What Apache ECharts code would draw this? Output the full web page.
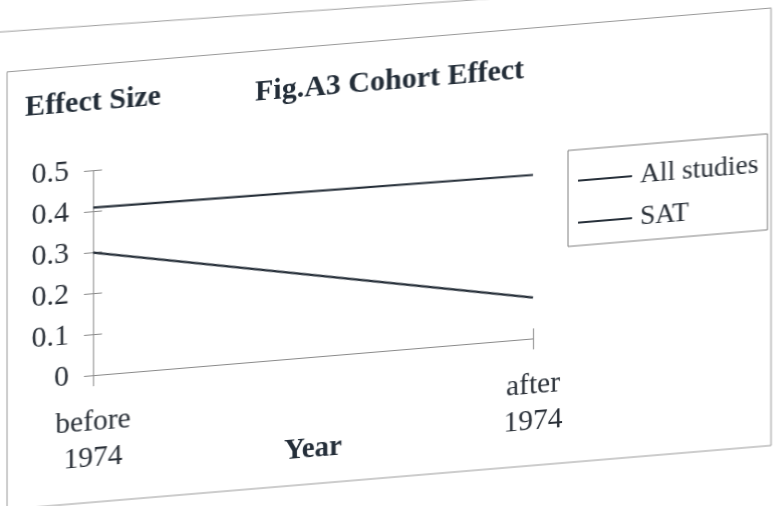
<!DOCTYPE html>
<html>
<head>
<meta charset="utf-8">
<script src="https://cdn.jsdelivr.net/npm/echarts@6/dist/echarts.min.js"></script>
<style>
  html, body { margin: 0; padding: 0; background: #ffffff; overflow: hidden; }
  #wrap { position: absolute; left: 0; top: 0; width: 773px; height: 506px; overflow: hidden; }
  /* the printed page sits at a slant, so the whole figure is sheared */
  #chart { position: absolute; left: 0; top: 0; width: 773px; height: 520px;
           transform: skewY(-4.78deg); transform-origin: 0 0; }
</style>
</head>
<body>
<div id="wrap"><div id="chart"></div></div>
<script>
// Cohort effect on effect size, grouped by publication period
const categories = ['before\n1974', 'after\n1974'];
const allStudies = [0.41, 0.40];
const sat = [0.30, 0.10];
const seriesNames = ['All studies', 'SAT'];
const yTicks = [0, 0.1, 0.2, 0.3, 0.4, 0.5];

const ink = '#27303a';
const textInk = '#2a3038';
const serif = 'Liberation Serif';

const chart = echarts.init(document.getElementById('chart'), null, { renderer: 'canvas' });

const baseY = {
  type: 'value',
  min: yTicks[0],
  max: yTicks[yTicks.length - 1],
  interval: 0.1,
  splitLine: { show: false }
};

chart.setOption({
  backgroundColor: '#ffffff',
  animation: false,
  title: {
    text: 'Fig.A3 Cohort Effect',
    left: 255,
    top: 99,
    padding: 0,
    textStyle: { fontFamily: serif, fontSize: 30, fontWeight: 'bold', color: '#232d38', lineHeight: 30 }
  },
  legend: {
    orient: 'vertical',
    left: 568,
    top: 198,
    padding: [16, 9, 8, 10],
    itemGap: 12,
    itemWidth: 54,
    itemHeight: 2,
    icon: 'rect',
    borderColor: '#808080',
    borderWidth: 1,
    data: seriesNames,
    textStyle: { fontFamily: serif, fontSize: 27.5, color: textInk, lineHeight: 30, padding: [0, 0, 0, 3] }
  },
  grid: { left: 93, right: 240, top: 178.6, bottom: 137 },
  xAxis: [{
    type: 'category',
    data: categories,
    boundaryGap: false,
    name: 'Year',
    nameLocation: 'middle',
    nameGap: 93,
    nameMoveOverlap: false,
    nameTextStyle: { fontFamily: serif, fontSize: 29, fontWeight: 'bold', color: '#232d38', verticalAlign: 'middle' },
    axisLine: { lineStyle: { color: '#8a8a8a', width: 1 } },
    axisTick: { show: true, length: 11, alignWithLabel: true, lineStyle: { color: '#8a8a8a' } },
    axisLabel: { fontFamily: serif, fontSize: 29.5, color: textInk, lineHeight: 36, margin: 29, align: 'center', interval: 0 }
  }, {
    type: 'category',
    data: categories,
    boundaryGap: false,
    position: 'bottom',
    axisLine: { show: false },
    axisTick: { show: true, inside: true, length: 10, lineStyle: { color: '#8a8a8a' } },
    axisLabel: { show: false }
  }],
  yAxis: [Object.assign({}, baseY, {
    name: 'Effect Size',
    nameLocation: 'end',
    nameGap: 68,
    nameMoveOverlap: false,
    nameTextStyle: { fontFamily: serif, fontSize: 30, fontWeight: 'bold', color: '#232d38', align: 'center', verticalAlign: 'middle' },
    axisLine: { show: true, lineStyle: { color: '#8a8a8a', width: 1 } },
    axisTick: { show: true, length: 9, lineStyle: { color: '#8a8a8a' } },
    axisLabel: { fontFamily: serif, fontSize: 30, color: textInk, margin: 24 }
  }), Object.assign({}, baseY, {
    position: 'left',
    axisLine: { show: false },
    axisTick: { show: true, inside: true, length: 9, lineStyle: { color: '#8a8a8a' } },
    axisLabel: { show: false }
  })],
  series: [{
    name: seriesNames[0],
    type: 'line',
    data: allStudies,
    symbol: 'none',
    itemStyle: { color: ink },
    lineStyle: { color: ink, width: 2.2 }
  }, {
    name: seriesNames[1],
    type: 'line',
    data: sat,
    symbol: 'none',
    itemStyle: { color: ink },
    lineStyle: { color: ink, width: 2.2 }
  }],
  graphic: [{
    // chart area frame
    type: 'rect',
    silent: true,
    shape: { x: 7, y: 72.5, width: 764, height: 437.5 },
    style: { fill: 'none', stroke: '#9a9a9a', lineWidth: 1 }
  }, {
    // edge of the neighbouring frame above
    type: 'line',
    silent: true,
    shape: { x1: 0, y1: 32, x2: 773, y2: 44.3 },
    style: { stroke: '#a0a0a0', lineWidth: 1 }
  }]
});
</script>
</body>
</html>
